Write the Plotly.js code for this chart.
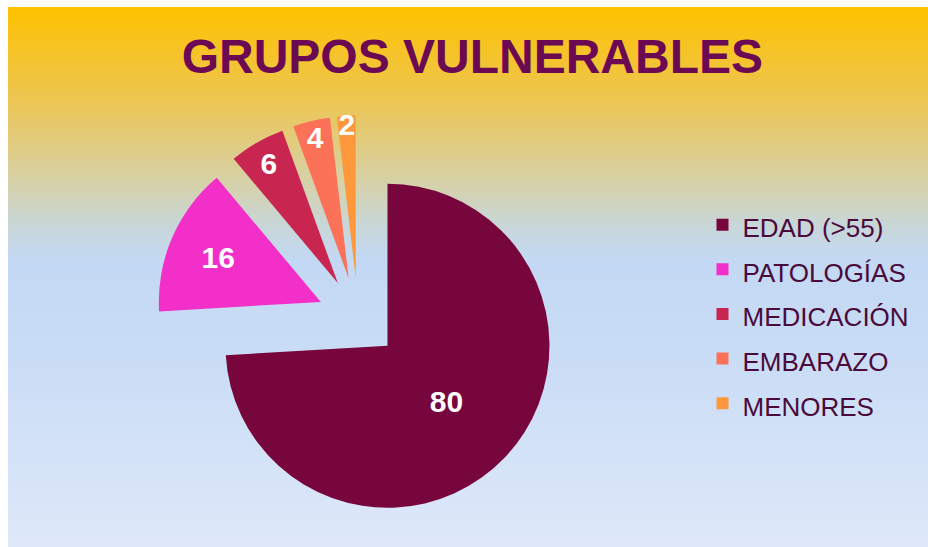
<!DOCTYPE html>
<html>
<head>
<meta charset="utf-8">
<script src="https://cdn.plot.ly/plotly-3.0.1.min.js"></script>
<style>
  html, body { margin: 0; padding: 0; background: #ffffff; }
  #chart {
    width: 928px; height: 547px;
    background-color: #ffffff;
    background-image: linear-gradient(to bottom, #FEC200 0%, #EDC552 17%, #D7D1A6 32%, #C9D6D6 40%, #C3D8F4 47%, #CCDEF6 70%, #DEE8F9 100%);
    background-position: 8px 7px;
    background-size: 920px 540px;
    background-repeat: no-repeat;
  }
</style>
</head>
<body>
<div id="chart"></div>
<script>
const categories = ["EDAD (>55)", "PATOLOGÍAS", "MEDICACIÓN", "EMBARAZO", "MENORES"];
const values = [80, 16, 6, 4, 2];
const sliceColors = ["#77063D", "#F22FC8", "#C82650", "#FC7258", "#FD983C"];
const chartTitle = "GRUPOS VULNERABLES";

const font = "Liberation Sans, Arial, Helvetica, sans-serif";

const trace = {
  type: "pie",
  labels: categories.map(c => '<span style="font-size:26px">' + c + '</span>'),
  values: values,
  marker: { colors: sliceColors, line: { width: 0 } },
  sort: false,
  direction: "clockwise",
  rotation: 0,
  pull: 0.25,
  textinfo: "value",
  texttemplate: "<b>%{value}</b>",
  textposition: "inside",
  insidetextorientation: "horizontal",
  textfont: { family: font, size: 30, color: "#ffffff" },
  hoverinfo: "label+value",
  domain: { x: [0.1676, 0.6040], y: [0.04845, 0.78885] }
};

const layout = {
  width: 928,
  height: 547,
  margin: { l: 0, r: 0, t: 0, b: 0, autoexpand: false },
  paper_bgcolor: "rgba(0,0,0,0)",
  plot_bgcolor: "rgba(0,0,0,0)",
  uniformtext: { mode: "show", minsize: 30 },
  title: {
    text: "<b>" + chartTitle + "</b>",
    font: { family: font, size: 48, color: "#6B0A52" },
    x: 0.509, xanchor: "center", xref: "paper",
    y: 0.8976, yanchor: "middle", yref: "paper"
  },
  showlegend: true,
  legend: {
    x: 0.757, xanchor: "left",
    y: 0.639, yanchor: "top",
    bgcolor: "rgba(0,0,0,0)",
    borderwidth: 0,
    font: { family: font, size: 32, color: "#4A0A3A" },
    traceorder: "normal"
  }
};

Plotly.newPlot("chart", [trace], layout, { displayModeBar: false, staticPlot: true });
</script>
</body>
</html>
